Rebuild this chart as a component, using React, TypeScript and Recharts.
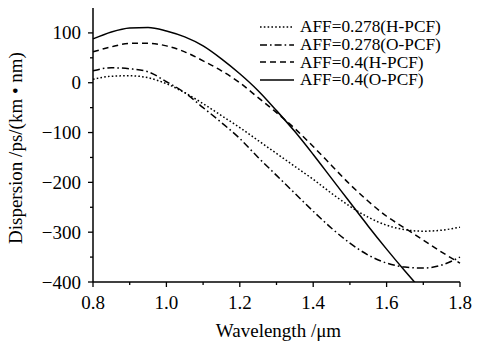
import { Line, LineChart, XAxis, YAxis } from "recharts";

const FONT = "Liberation Serif";
const INK = "#000";

// wavelength (µm)
const wavelength = [
  0.8, 0.85, 0.9, 0.95, 1.0, 1.05, 1.1, 1.15, 1.2, 1.25, 1.3, 1.35, 1.4, 1.45, 1.5, 1.55,
  1.6, 1.65, 1.7, 1.75, 1.8,
];

// dispersion ps/(km·nm)
const aff278H = [
  7, 13, 14, 10, -2, -20, -42, -66, -90, -116, -142, -168, -194, -222, -248, -270, -286,
  -295, -298, -296, -290,
];
const aff278O = [
  24, 30, 28, 22, 2, -20, -50, -80, -112, -150, -186, -222, -258, -292, -322, -346, -362,
  -370, -372, -366, -350,
];
const aff4H = [
  62, 72, 79, 79, 74, 62, 44, 24, 0, -30, -60, -92, -128, -166, -204, -238, -268, -292,
  -316, -340, -362,
];
const aff4O = [
  88, 102, 110, 111, 104, 92, 74, 48, 18, -16, -56, -98, -144, -192, -240, -288, -334,
  -378, -420, null, null,
];

const xTicks = [0.8, 0.9, 1.0, 1.1, 1.2, 1.3, 1.4, 1.5, 1.6, 1.7, 1.8];
const xLabels = [0.8, 1.0, 1.2, 1.4, 1.6, 1.8];
const yTicks = [-400, -350, -300, -250, -200, -150, -100, -50, 0, 50, 100];
const yLabels = [-400, -300, -200, -100, 0, 100];

const series = [
  { key: "h278", name: "AFF=0.278(H-PCF)", dash: "1.6 2.2" },
  { key: "o278", name: "AFF=0.278(O-PCF)", dash: "7 3 1.6 3" },
  { key: "h4", name: "AFF=0.4(H-PCF)", dash: "6 4" },
  { key: "o4", name: "AFF=0.4(O-PCF)", dash: undefined as string | undefined },
];

const data = wavelength.map((wl, i) => ({
  wl,
  h278: aff278H[i],
  o278: aff278O[i],
  h4: aff4H[i],
  o4: aff4O[i],
}));

function XTick({ x, y, payload }: any) {
  const major = xLabels.includes(payload.value);
  return (
    <g>
      <line x1={x} x2={x} y1={y} y2={y + (major ? 5 : 3)} stroke={INK} strokeWidth={1.3} />
      {major && (
        <text x={x} y={y + 27} textAnchor="middle" fontSize={19} fontFamily={FONT} fill={INK}>
          {payload.value.toFixed(1)}
        </text>
      )}
    </g>
  );
}

function YTick({ x, y, payload }: any) {
  const major = yLabels.includes(payload.value);
  const v = payload.value;
  return (
    <g>
      <line x1={x - (major ? 5 : 3)} x2={x} y1={y} y2={y} stroke={INK} strokeWidth={1.3} />
      {major && (
        <text x={x - 12} y={y + 6.5} textAnchor="end" fontSize={19} fontFamily={FONT} fill={INK}>
          {v < 0 ? `\u2212${Math.abs(v)}` : String(v)}
        </text>
      )}
    </g>
  );
}

function XTitle({ viewBox }: any) {
  return (
    <text
      x={viewBox.x + viewBox.width / 2 + 2}
      y={viewBox.y + 55}
      textAnchor="middle"
      fontSize={19}
      fontFamily={FONT}
      fill={INK}
    >
      Wavelength /μm
    </text>
  );
}

function YTitle({ viewBox }: any) {
  const cx = 22;
  const cy = viewBox.y + viewBox.height / 2 + 3;
  return (
    <text
      x={cx}
      y={cy}
      transform={`rotate(-90, ${cx}, ${cy})`}
      textAnchor="middle"
      fontSize={19}
      fontFamily={FONT}
      fill={INK}
    >
      Dispersion /ps/(km • nm)
    </text>
  );
}

function LegendBox() {
  return (
    <div
      style={{
        position: "absolute",
        top: 18,
        left: 259,
        fontFamily: FONT,
        fontSize: 17.3,
        lineHeight: "17.8px",
        color: INK,
      }}
    >
      {series.map((s) => (
        <div key={s.key} style={{ display: "flex", alignItems: "center", whiteSpace: "nowrap", height: 17.8 }}>
          <svg width={36} height={10} style={{ marginRight: 5 }}>
            <line
              x1={1}
              x2={35}
              y1={5}
              y2={5}
              stroke={INK}
              strokeWidth={1.4}
              strokeDasharray={s.dash}
            />
          </svg>
          <span>{s.name}</span>
        </div>
      ))}
    </div>
  );
}

export default function App() {
  return (
    <div
      style={{
        position: "absolute",
        left: 0,
        top: 0,
        width: 477,
        height: 342,
        background: "#fff",
        fontFamily: FONT,
      }}
    >
      <LineChart
        width={477}
        height={342}
        data={data}
        margin={{ top: 8, right: 17, bottom: 0, left: 0 }}
      >
        <XAxis
          dataKey="wl"
          type="number"
          domain={[0.8, 1.8]}
          ticks={xTicks}
          interval={0}
          tick={<XTick />}
          tickLine={false}
          tickSize={0}
          tickMargin={0}
          height={60}
          axisLine={{ stroke: INK, strokeWidth: 1.5 }}
          label={<XTitle />}
        />
        <XAxis
          xAxisId="top"
          orientation="top"
          dataKey="wl"
          type="number"
          domain={[0.8, 1.8]}
          tick={false}
          tickLine={false}
          height={0}
          axisLine={{ stroke: INK, strokeWidth: 1.5 }}
        />
        <YAxis
          type="number"
          domain={[-400, 150]}
          allowDataOverflow
          ticks={yTicks}
          interval={0}
          tick={<YTick />}
          tickLine={false}
          tickSize={0}
          tickMargin={0}
          width={93}
          axisLine={{ stroke: INK, strokeWidth: 1.5 }}
          label={<YTitle />}
        />
        <YAxis
          yAxisId="right"
          orientation="right"
          type="number"
          domain={[-400, 150]}
          tick={false}
          tickLine={false}
          width={0}
          axisLine={{ stroke: INK, strokeWidth: 1.5 }}
        />
        {series.map((s) => (
          <Line
            key={s.key}
            dataKey={s.key}
            name={s.name}
            type="monotone"
            stroke={INK}
            strokeWidth={1.5}
            strokeDasharray={s.dash}
            dot={false}
            activeDot={false}
            isAnimationActive={false}
          />
        ))}
      </LineChart>
      <LegendBox />
    </div>
  );
}
